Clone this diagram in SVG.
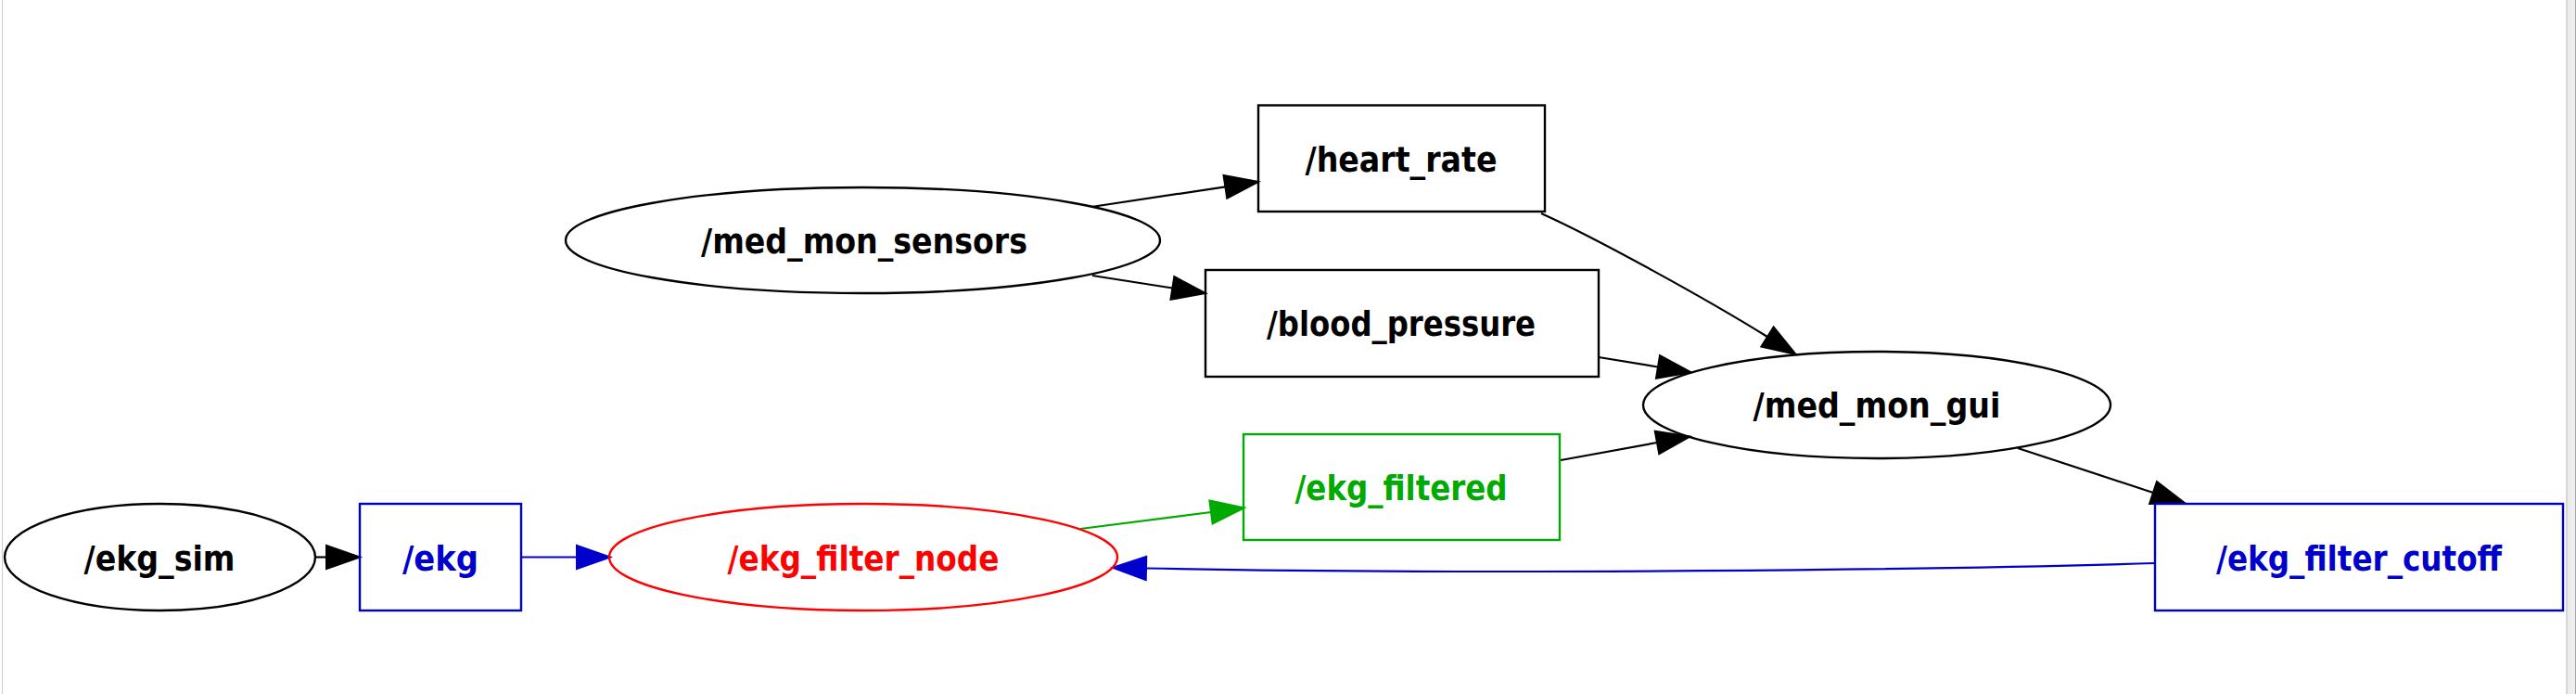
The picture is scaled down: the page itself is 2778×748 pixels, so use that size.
<svg xmlns="http://www.w3.org/2000/svg" width="2778" height="748" viewBox="0 0 2778 748">
<style>
.bg{fill:#ffffff}
.n{fill:none;stroke-width:2.4}
.k{stroke:#000000}
.b{stroke:#0000cc}
.r{stroke:#ff0000}
.g{stroke:#00aa00}
.t{font-family:"DejaVu Sans Condensed","DejaVu Sans","Liberation Sans",sans-serif;font-weight:bold;font-size:38px;text-anchor:middle}
.tk{fill:#000000}
.tb{fill:#0000cc}
.tr{fill:#ff0000}
.tg{fill:#00aa00}
.e{fill:none;stroke-width:2.2}
</style>
<defs>
<marker id="ak" markerUnits="userSpaceOnUse" viewBox="0 -14 38 28" refX="0" refY="0" markerWidth="38" markerHeight="28" orient="auto" overflow="visible"><path d="M0,-12.5 L36,0 L0,12.5 Z" fill="#000000" stroke="#000000" stroke-width="2"/></marker>
<marker id="ab" markerUnits="userSpaceOnUse" viewBox="0 -14 38 28" refX="0" refY="0" markerWidth="38" markerHeight="28" orient="auto" overflow="visible"><path d="M0,-12.5 L36,0 L0,12.5 Z" fill="#0000cc" stroke="#0000cc" stroke-width="2"/></marker>
<marker id="ag" markerUnits="userSpaceOnUse" viewBox="0 -14 38 28" refX="0" refY="0" markerWidth="38" markerHeight="28" orient="auto" overflow="visible"><path d="M0,-12.5 L36,0 L0,12.5 Z" fill="#00aa00" stroke="#00aa00" stroke-width="2"/></marker>
</defs>
<rect class="bg" x="0" y="0" width="2778" height="748"/>
<line x1="2.5" y1="0" x2="2.5" y2="748" stroke="#cccccc" stroke-width="1"/>
<rect x="2767" y="0" width="2.5" height="748" fill="#d6d6d6"/>
<rect x="2769.5" y="0" width="7.5" height="748" fill="#ededed"/>
<rect x="2777" y="0" width="1" height="748" fill="#a8a8a8"/>

<g id="connectors">
<path class="e k" d="M1177,223 L1321.4,201.3" marker-end="url(#ak)"/>
<path class="e k" d="M1178,297 L1264.4,310.5" marker-end="url(#ak)"/>
<path class="e k" d="M1662,230 C1720,256 1840,322 1906,363" marker-end="url(#ak)"/>
<path class="e k" d="M1724,385 L1788,395.5" marker-end="url(#ak)"/>
<path class="e k" d="M1683,496 L1787,477" marker-end="url(#ak)"/>
<path class="e k" d="M2176,483 L2322,531" marker-end="url(#ak)"/>
<path class="e k" d="M340,600.5 L352,600.5" marker-end="url(#ak)"/>
<path class="e b" d="M562,600.5 L622,600.5" marker-end="url(#ab)"/>
<path class="e g" d="M1165,570 L1306,552" marker-end="url(#ag)"/>
<path class="e b" d="M2324,607 C2100,614 1600,620 1236,612.5" marker-end="url(#ab)"/>
</g>

<g id="node_ekg_sim">
<ellipse class="n k" cx="172.5" cy="600.5" rx="167.5" ry="57.5"/>
<text class="t tk" x="172" y="615" textLength="163" lengthAdjust="spacingAndGlyphs">/ekg_sim</text>
</g>
<g id="node_ekg">
<rect class="n b" x="388" y="543" width="174" height="115"/>
<text class="t tb" x="475" y="615" textLength="82" lengthAdjust="spacingAndGlyphs">/ekg</text>
</g>
<g id="node_ekg_filter_node">
<ellipse class="n r" cx="931" cy="600.5" rx="274" ry="57.5"/>
<text class="t tr" x="931" y="615" textLength="293" lengthAdjust="spacingAndGlyphs">/ekg_filter_node</text>
</g>
<g id="node_ekg_filtered">
<rect class="n g" x="1341" y="468" width="341" height="114"/>
<text class="t tg" x="1511" y="539" textLength="229" lengthAdjust="spacingAndGlyphs">/ekg_filtered</text>
</g>
<g id="node_med_mon_sensors">
<ellipse class="n k" cx="930.5" cy="259" rx="320.5" ry="57"/>
<text class="t tk" x="932" y="273" textLength="352" lengthAdjust="spacingAndGlyphs">/med_mon_sensors</text>
</g>
<g id="node_heart_rate">
<rect class="n k" x="1357" y="113.5" width="309" height="114.5"/>
<text class="t tk" x="1511" y="185" textLength="207" lengthAdjust="spacingAndGlyphs">/heart_rate</text>
</g>
<g id="node_blood_pressure">
<rect class="n k" x="1300" y="291" width="424" height="115"/>
<text class="t tk" x="1511" y="362" textLength="290" lengthAdjust="spacingAndGlyphs">/blood_pressure</text>
</g>
<g id="node_med_mon_gui">
<ellipse class="n k" cx="2024" cy="436.5" rx="252" ry="57.5"/>
<text class="t tk" x="2024" y="450" textLength="267" lengthAdjust="spacingAndGlyphs">/med_mon_gui</text>
</g>
<g id="node_ekg_filter_cutoff">
<rect class="n b" x="2324" y="543" width="440" height="115"/>
<text class="t tb" x="2544" y="615" textLength="308" lengthAdjust="spacingAndGlyphs">/ekg_filter_cutoff</text>
</g>
</svg>
